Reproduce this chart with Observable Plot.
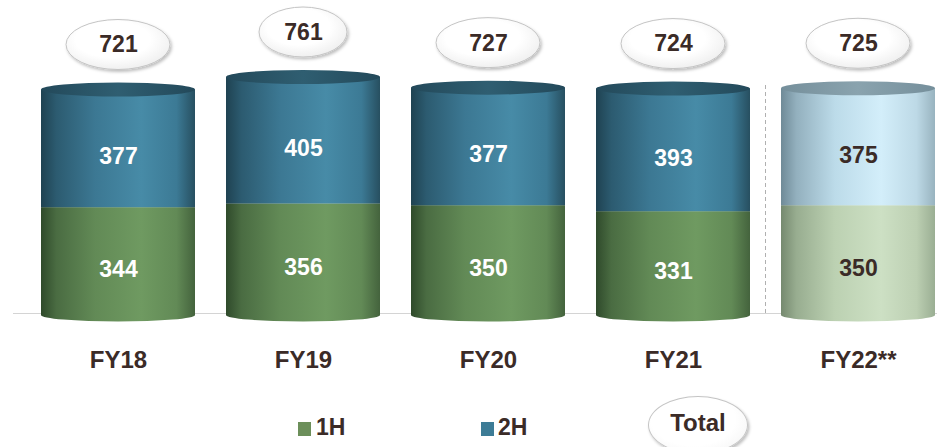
<!DOCTYPE html>
<html>
<head>
<meta charset="utf-8">
<script src="https://cdn.jsdelivr.net/npm/d3@7"></script>
<script src="https://cdn.jsdelivr.net/npm/@observablehq/plot@0.6"></script>
<style>
html,body{margin:0;padding:0;background:#fff;width:937px;height:447px;overflow:hidden;font-family:"Liberation Sans",Arial,sans-serif;}
#chart svg{display:block;}
#legend{position:relative;width:937px;height:52px;color:#3b2b27;font-weight:bold;}
#legend .sw{position:absolute;width:13px;height:14px;}
#legend .lb{position:absolute;font-size:23px;line-height:23px;}
#legend .tot{position:absolute;left:648px;top:1px;width:98px;height:56px;border-radius:50%;border:1px solid #c4c4c4;box-shadow:1.5px 2px 3px rgba(0,0,0,0.25);background:radial-gradient(ellipse at 45% 40%, #ffffff 55%, #f0f0f0 100%);}
#legend .totText{position:absolute;left:648px;top:16px;width:100px;text-align:center;font-size:24px;line-height:24px;}
</style>
</head>
<body>
<svg width="0" height="0" style="position:absolute">
<defs>
  <linearGradient id="g2h" x1="0" x2="1" y1="0" y2="0">
    <stop offset="0" stop-color="#1f4251"/>
    <stop offset="0.1" stop-color="#2c5b70"/>
    <stop offset="0.35" stop-color="#3c7893"/>
    <stop offset="0.65" stop-color="#478ba7"/>
    <stop offset="0.88" stop-color="#3c7a95"/>
    <stop offset="1" stop-color="#274f60"/>
  </linearGradient>
  <linearGradient id="g1h" x1="0" x2="1" y1="0" y2="0">
    <stop offset="0" stop-color="#2f4a2b"/>
    <stop offset="0.1" stop-color="#4a6c42"/>
    <stop offset="0.35" stop-color="#628a56"/>
    <stop offset="0.65" stop-color="#6f9a61"/>
    <stop offset="0.88" stop-color="#628a56"/>
    <stop offset="1" stop-color="#44633d"/>
  </linearGradient>
  <linearGradient id="gcap" x1="0" x2="1" y1="0" y2="0">
    <stop offset="0" stop-color="#23495a"/>
    <stop offset="0.5" stop-color="#2f5e71"/>
    <stop offset="1" stop-color="#23495a"/>
  </linearGradient>
  <linearGradient id="g2hL" x1="0" x2="1" y1="0" y2="0">
    <stop offset="0" stop-color="#6f8a97"/>
    <stop offset="0.1" stop-color="#93b0be"/>
    <stop offset="0.35" stop-color="#bcdbe9"/>
    <stop offset="0.65" stop-color="#d3eefa"/>
    <stop offset="0.88" stop-color="#bdd9e6"/>
    <stop offset="1" stop-color="#98b3bf"/>
  </linearGradient>
  <linearGradient id="g1hL" x1="0" x2="1" y1="0" y2="0">
    <stop offset="0" stop-color="#75896f"/>
    <stop offset="0.1" stop-color="#98ad90"/>
    <stop offset="0.35" stop-color="#bcd1b2"/>
    <stop offset="0.65" stop-color="#cde0c4"/>
    <stop offset="0.88" stop-color="#bccfb2"/>
    <stop offset="1" stop-color="#9aae93"/>
  </linearGradient>
  <linearGradient id="gcapL" x1="0" x2="1" y1="0" y2="0">
    <stop offset="0" stop-color="#758f9b"/>
    <stop offset="0.5" stop-color="#8aa3ae"/>
    <stop offset="1" stop-color="#758f9b"/>
  </linearGradient>
  <radialGradient id="gtot" cx="0.45" cy="0.4" r="0.6">
    <stop offset="0.6" stop-color="#ffffff"/>
    <stop offset="1" stop-color="#f0f0f0"/>
  </radialGradient>
  <filter id="shadow" x="-20%" y="-30%" width="140%" height="170%">
    <feDropShadow dx="1.5" dy="2" stdDeviation="1.5" flood-color="#000" flood-opacity="0.25"/>
  </filter>
</defs>
</svg>
<div id="chart"></div>
<div id="legend">
  <div class="sw" style="left:298px;top:27px;background:#6c8f5a;"></div>
  <div class="lb" style="left:316px;top:21px;">1H</div>
  <div class="sw" style="left:481px;top:27px;background:#3d7c96;"></div>
  <div class="lb" style="left:498px;top:21px;">2H</div>
  <div class="tot"></div>
  <div class="totText">Total</div>
</div>
<script>
// ---- data ----
const years = ["FY18", "FY19", "FY20", "FY21", "FY22**"];
const firstHalf = [344, 356, 350, 331, 350];
const secondHalf = [377, 405, 377, 393, 375];
const totals = [721, 761, 727, 724, 725];
const estimateYear = "FY22**";

const rows = years.map((year, i) => ({
  year, h1: firstHalf[i], h2: secondHalf[i], total: totals[i], light: year === estimateYear
}));
const segs = rows.flatMap(r => [
  {year: r.year, series: "1H", y1: 0, y2: r.h1, value: r.h1, light: r.light},
  {year: r.year, series: "2H", y1: r.h1, y2: r.h1 + r.h2, value: r.h2, light: r.light}
]);

const textColor = "#3b2b27";
const font = "'Liberation Sans', Arial, sans-serif";

function customMark(draw) {
  return function(...args) {
    const scales = args.find(a => a && typeof a === "object" && typeof a.x === "function" && typeof a.y === "function");
    const g = d3.create("svg:g");
    if (scales) {
      const bw = scales.x.bandwidth ? scales.x.bandwidth() : 154;
      draw(g, scales, bw);
    }
    return g.node();
  };
}

const bottoms = customMark((g, s, bw) => {
  for (const r of rows) {
    g.append("ellipse")
      .attr("cx", s.x(r.year) + bw / 2).attr("cy", s.y(0))
      .attr("rx", bw / 2).attr("ry", 6.5)
      .attr("fill", r.light ? "url(#g1hL)" : "url(#g1h)");
  }
});
// front rim of the 1H segment top (curved boundary between 1H and 2H)
const splits = customMark((g, s, bw) => {
  for (const r of rows) {
    const x0 = s.x(r.year), x1 = x0 + bw, cy = s.y(r.h1);
    g.append("path")
      .attr("d", `M${x0},${cy}A${bw / 2},4.5 0 0 0 ${x1},${cy}Z`)
      .attr("fill", r.light ? "url(#g1hL)" : "url(#g1h)");
  }
});
const caps = customMark((g, s, bw) => {
  for (const r of rows) {
    g.append("ellipse")
      .attr("cx", s.x(r.year) + bw / 2).attr("cy", s.y(r.total))
      .attr("rx", bw / 2).attr("ry", 7)
      .attr("fill", r.light ? "url(#gcapL)" : "url(#gcap)");
  }
});
const totalBubbles = customMark((g, s, bw) => {
  for (const r of rows) {
    g.append("ellipse")
      .attr("cx", s.x(r.year) + bw / 2).attr("cy", s.y(r.total) - 45)
      .attr("rx", r.year === "FY19" ? 44 : 52).attr("ry", 25)
      .attr("fill", "url(#gtot)")
      .attr("stroke", "#c4c4c4").attr("stroke-width", 1)
      .attr("filter", "url(#shadow)");
  }
});
const divider = customMark((g, s, bw) => {
  const i = years.indexOf(estimateYear);
  const xPrev = s.x(years[i - 1]) + bw;
  const xNext = s.x(years[i]);
  const xm = (xPrev + xNext) / 2;
  g.append("line")
    .attr("x1", xm).attr("x2", xm)
    .attr("y1", s.y(0) - 2).attr("y2", s.y(totals[i]) - 4)
    .attr("stroke", "#b0b0b0").attr("stroke-width", 1)
    .attr("stroke-dasharray", "4,3");
});

const chart = Plot.plot({
  width: 937,
  height: 395,
  marginLeft: 13, marginRight: 0, marginTop: 0, marginBottom: 0,
  style: {background: "#fff", fontFamily: font},
  x: {domain: years, range: [40, 936], paddingInner: 0.17, paddingOuter: 0, axis: null},
  y: {domain: [0, 761], range: [315, 77], axis: null},
  marks: [
    Plot.ruleY([0], {stroke: "#d4d4d4", strokeWidth: 1, dy: -2}),
    divider,
    bottoms,
    Plot.barY(segs, {filter: d => d.series === "1H" && !d.light, x: "year", y1: "y1", y2: "y2", fill: "url(#g1h)"}),
    Plot.barY(segs, {filter: d => d.series === "2H" && !d.light, x: "year", y1: "y1", y2: "y2", fill: "url(#g2h)"}),
    Plot.barY(segs, {filter: d => d.series === "1H" && d.light, x: "year", y1: "y1", y2: "y2", fill: "url(#g1hL)"}),
    Plot.barY(segs, {filter: d => d.series === "2H" && d.light, x: "year", y1: "y1", y2: "y2", fill: "url(#g2hL)"}),
    splits,
    caps,
    Plot.text(segs, {filter: d => !d.light, x: "year", y: d => (d.y1 + d.y2) / 2, text: d => String(d.value), dy: 8, fill: "white", fontSize: 23, fontWeight: "bold"}),
    Plot.text(segs, {filter: d => d.light, x: "year", y: d => (d.y1 + d.y2) / 2, text: d => String(d.value), dy: 8, fill: textColor, fontSize: 23, fontWeight: "bold"}),
    totalBubbles,
    Plot.text(rows, {x: "year", y: "total", text: d => String(d.total), dy: -45, fill: textColor, fontSize: 23, fontWeight: "bold"}),
    Plot.text(years, {x: d => d, y: () => 0, text: d => d, dy: 45, fill: textColor, fontSize: 24, fontWeight: "bold"})
  ]
});
document.getElementById("chart").appendChild(chart);
</script>
</body>
</html>
